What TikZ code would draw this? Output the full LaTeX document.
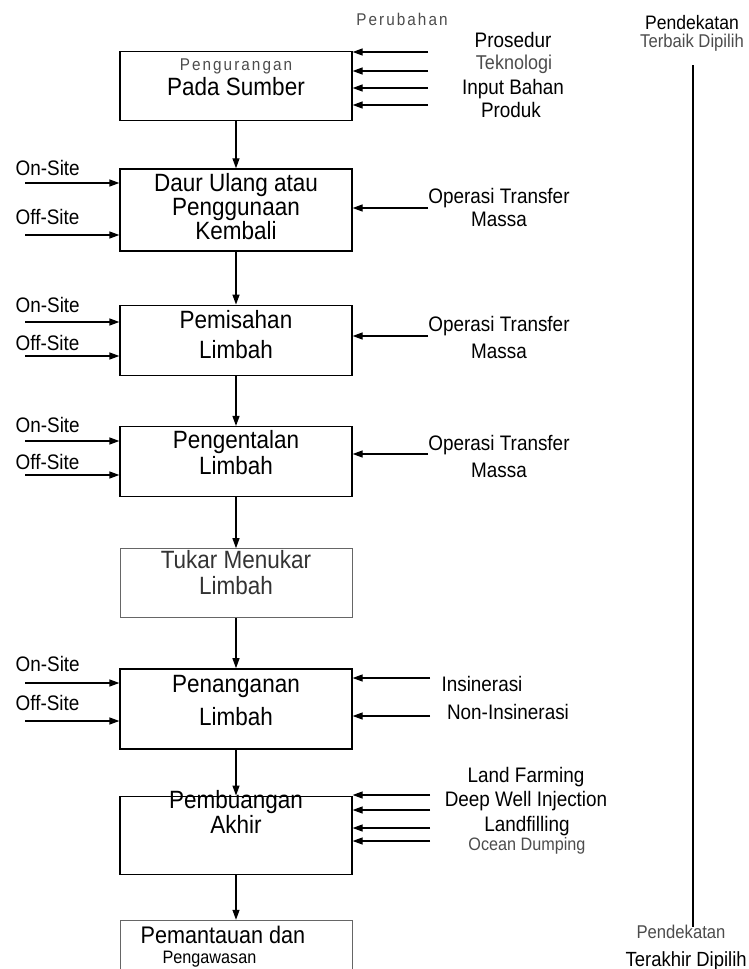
\documentclass[tikz,border=0pt]{standalone}
\usepackage{fontspec}
\setmainfont[FakeStretch=0.9]{Liberation Sans}
\newfontfamily\spacedfont[FakeStretch=0.9, LetterSpace=12]{Liberation Sans}
\usetikzlibrary{positioning, arrows.meta}
\tikzset{
->, % every connector is an input arrow
>={Triangle[length=10pt,width=7pt]}, % filled heads as in the scheme
box/.style={draw, rectangle, minimum width=232pt, inner sep=0pt}, % one step of the hierarchy
softbox/.style={box, draw=black!60, line width=1pt}, % steps drawn with a grey frame
boxtext/.style={align=center, inner sep=0pt, font=\fontsize{25}{#1}\selectfont}, % text inside a step
boxtext/.default=26,
side/.style={inner sep=0pt, font=\fontsize{21}{23}\selectfont}, % labels of the side inputs
faint/.style={inner sep=0pt, font=\fontsize{18}{20}\selectfont, text=black!70}, % the lighter small labels
}
\begin{document}
\begin{tikzpicture}[x=1pt, y=-1pt, line width=1.3pt]
\useasboundingbox (0,0) rectangle (749,969);

% steps, from best to last
\node[box, minimum height=69pt, anchor=north] (b1) at (236,51) {};
\node[box, minimum height=82pt, below=47pt of b1] (b2) {};
\node[box, minimum height=70pt, below=53pt of b2] (b3) {};
\node[box, minimum height=70pt, below=50pt of b3] (b4) {};
\node[softbox, minimum height=69pt, below=51pt of b4] (b5) {};
\node[box, minimum height=80pt, below=50pt of b5] (b6) {};
\node[box, minimum height=78pt, below=46pt of b6] (b7) {};
\node[softbox, minimum height=55pt, below=45pt of b7] (b8) {};

\node[boxtext=25] (t1) at (236,77) {{\fontsize{17}{19}\spacedfont\color{black!70}Pengurangan}\\Pada Sumber};
\node[boxtext=24] (t2) at (236,207) {Daur Ulang atau\\Penggunaan\\Kembali};
\node[boxtext=30] (t3) at (236,335) {Pemisahan\\Limbah};
\node[boxtext=26] (t4) at (236,453) {Pengentalan\\Limbah};
\node[boxtext=26, text=black!80] (t5) at (236,573) {Tukar Menukar\\Limbah};
\node[boxtext=33] (t6) at (236,701) {Penanganan\\Limbah};
\node[boxtext=23] (t7) at (236,812) {Pembuangan\\Akhir};
\node[boxtext=20, align=left, anchor=west, font=\fontsize{24}{20}\selectfont] (t8) at (140,947) {Pemantauan dan\\\hspace*{22pt}{\fontsize{18}{20}\selectfont Pengawasan}};

\draw
    (b1) edge (b2)
    (b2) edge (b3)
    (b3) edge (b4)
    (b4) edge (b5)
    (b5) edge (b6)
    (b6) edge (b7)
    (b7) edge (b8)
    ;

% on-site / off-site inputs on the left
\foreach \b/\ly/\ay/\lyy/\ayy in {b2/168/183/217/235, b3/305/322/343/356, b4/425/441/462/475, b6/664/683/703/721} {
    \node[side, anchor=west] (on-\b) at (15,\ly) {On-Site};
    \node[side, anchor=west] (off-\b) at (15,\lyy) {Off-Site};
    \coordinate (on-\b-s) at (25,\ay);
    \coordinate (off-\b-s) at (25,\ayy);
    \draw (on-\b-s) -- (on-\b-s -| \b.west);
    \draw (off-\b-s) -- (off-\b-s -| \b.west);
}

% changes feeding the source reduction
\node[faint, font=\fontsize{17}{19}\spacedfont] (perubahan) at (402,19) {Perubahan};
\node[side] (prosedur) at (513,40) {Prosedur};
\node[faint, font=\fontsize{20}{22}\selectfont] (teknologi) at (514,64) {Teknologi};
\node[side] (input) at (513,89) {Input Bahan};
\node[side] (produk) at (511,110) {Produk};
\foreach \n/\y in {1/52, 2/71, 3/88, 4/105} {
    \coordinate (r1-\n) at (428,\y);
    \draw (r1-\n) -- (r1-\n -| b1.east);
}

% mass transfer operations
\node[side, align=center] (ot2) at (499,207) {Operasi Transfer\\Massa};
\node[side, align=center, font=\fontsize{21}{27}\selectfont] (ot3) at (499,337) {Operasi Transfer\\Massa};
\node[side, align=center, font=\fontsize{21}{27}\selectfont] (ot4) at (499,456) {Operasi Transfer\\Massa};
\foreach \b/\y in {b2/208, b3/336, b4/454} {
    \coordinate (m-\b) at (428,\y);
    \draw (m-\b) -- (m-\b -| \b.east);
}

% treatment
\node[side] (insin) at (482,684) {Insinerasi};
\node[side] (noninsin) at (508,712) {Non-Insinerasi};
\coordinate (r6-1) at (430,678);
\coordinate (r6-2) at (430,716);
\draw (r6-1) -- (r6-1 -| b6.east);
\draw (r6-2) -- (r6-2 -| b6.east);

% final disposal
\node[side] (farming) at (526,777) {Land Farming};
\node[side] (deepwell) at (526,801) {Deep Well Injection};
\node[side] (landfill) at (527,826) {Landfilling};
\node[faint] (ocean) at (527,846) {Ocean Dumping};
\foreach \n/\y in {1/795, 2/810, 3/828, 4/841} {
    \coordinate (r7-\n) at (430,\y);
    \draw (r7-\n) -- (r7-\n -| b7.east);
}

% best and last approach
\node[side, font=\fontsize{19.5}{21}\selectfont] (best) at (692,23) {Pendekatan};
\node[faint, font=\fontsize{18.5}{20}\selectfont] (bestsub) at (692,43) {Terbaik Dipilih};
\node[faint, font=\fontsize{18.5}{20}\selectfont] (last) at (681,932) {Pendekatan};
\node[side, font=\fontsize{20.5}{22}\selectfont, anchor=west] (lastsub) at (625,961) {Terakhir Dipilih};
\coordinate (ltop) at (693,65);
\coordinate (lbot) at (693,927);
\draw[-] (ltop) -- (lbot);
\end{tikzpicture}
\end{document}
